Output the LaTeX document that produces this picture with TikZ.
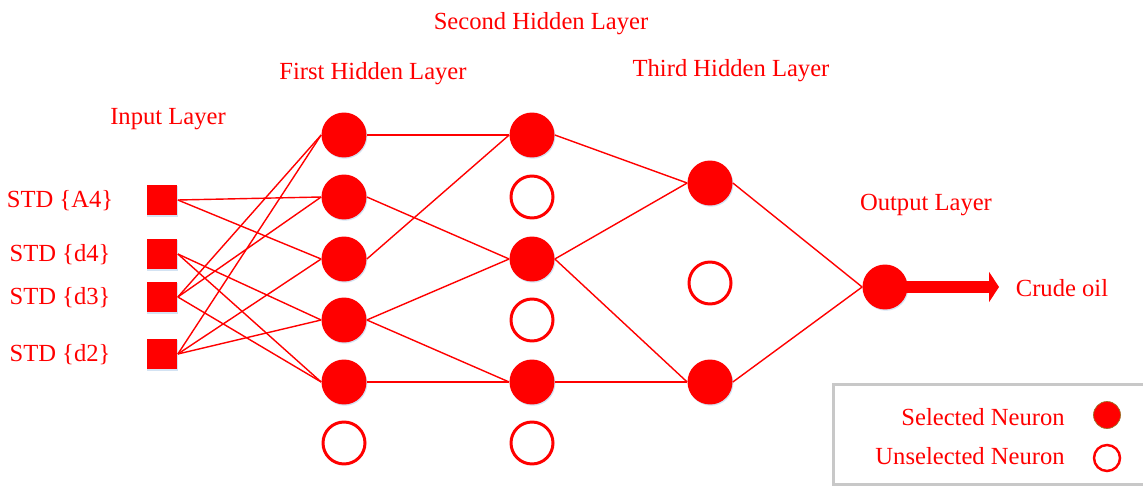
\documentclass[tikz,border=0pt]{standalone}
\usepackage{fontspec}
\setmainfont{Liberation Serif}
\usetikzlibrary{arrows.meta,shadows}
\definecolor{nnred}{RGB}{255,0,0}
\definecolor{legendgray}{RGB}{200,200,200}
\definecolor{rimbrown}{RGB}{160,110,40}
\definecolor{glow}{RGB}{200,220,240}
\begin{document}
\begin{tikzpicture}[x=0.02cm,y=-0.02cm,
  font=\fontsize{14}{16}\selectfont,
  lbl/.style={text=nnred, inner sep=0pt},
  soft/.style={drop shadow={shadow xshift=0.5pt, shadow yshift=-0.7pt, fill=glow, opacity=0.8}},
  inputbox/.style={rectangle, fill=nnred, minimum size=0.62cm, inner sep=0pt, soft},
  selected/.style={circle, fill=nnred, minimum size=0.9cm, inner sep=0pt, soft},
  unselected/.style={circle, draw=nnred, line width=1.7pt, fill=white, minimum size=0.84cm, inner sep=0pt},
  link/.style={draw=nnred, line width=0.8pt},
]
\useasboundingbox (0,0) rectangle (1143,486);

% layer titles
\node[lbl] (t2) at (541,24) {Second Hidden Layer};
\node[lbl] (t1) at (373,74) {First Hidden Layer};
\node[lbl] (t3) at (731,71) {Third Hidden Layer};
\node[lbl] (t0) at (168,119) {Input Layer};
\node[lbl] (t4) at (926,205) {Output Layer};

% input layer
\node[inputbox] (i1) at (162,200) {};
\node[inputbox] (i2) at (162,254) {};
\node[inputbox] (i3) at (162,297) {};
\node[inputbox] (i4) at (162,354) {};
\node[lbl] (li1) at (60,201) {STD \{A4\}};
\node[lbl] (li2) at (60,255) {STD \{d4\}};
\node[lbl] (li3) at (60,298) {STD \{d3\}};
\node[lbl] (li4) at (60,355) {STD \{d2\}};

% first hidden layer
\node[selected] (a1) at (344,135) {};
\node[selected] (a2) at (344,197) {};
\node[selected] (a3) at (344,259) {};
\node[selected] (a4) at (344,320) {};
\node[selected] (a5) at (344,382) {};
\node[unselected] (a6) at (344,443) {};

% second hidden layer
\node[selected] (b1) at (532,135) {};
\node[unselected] (b2) at (532,197) {};
\node[selected] (b3) at (532,259) {};
\node[unselected] (b4) at (532,320) {};
\node[selected] (b5) at (532,382) {};
\node[unselected] (b6) at (532,443) {};

% third hidden layer
\node[selected] (c1) at (710,183) {};
\node[unselected] (c2) at (710,283) {};
\node[selected] (c3) at (710,382) {};

% output layer
\node[selected] (o) at (885,287) {};
\coordinate (tip) at (999,287);
\node[lbl] (lo) at (1062,288) {Crude oil};

% connections: each leaves the right side of a unit and enters the left side of the next
\foreach \s/\t in {i1/a2, i1/a3, i2/a4, i2/a5, i3/a1, i3/a2, i3/a5, i4/a1, i4/a3, i4/a4,
                   a1/b1, a2/b3, a3/b1, a4/b3, a4/b5, a5/b5,
                   b1/c1, b3/c1, b3/c3, b5/c3,
                   c1/o, c3/o}
  \draw[link] (\s.east) -- (\t.west);
\draw[nnred, line width=0.24cm, -{Triangle[length=0.2cm,width=0.6cm]}] (o.center) -- (tip);

% legend
\begin{scope}
  \clip (0,0) rectangle (1143,486);
  \draw[legendgray, line width=0.06cm] (833,384) rectangle (1170,484);
\end{scope}
\node[lbl, anchor=east] (ls) at (1065,417) {Selected Neuron};
\node[lbl, anchor=east] (lu) at (1065,456) {Unselected Neuron};
\node[circle, fill=nnred, draw=rimbrown, line width=0.4pt, minimum size=0.54cm, inner sep=0pt] (ks) at (1107,415) {};
\node[circle, draw=nnred, line width=1.4pt, fill=white, minimum size=0.52cm, inner sep=0pt] (ku) at (1107,458) {};
\end{tikzpicture}
\end{document}
